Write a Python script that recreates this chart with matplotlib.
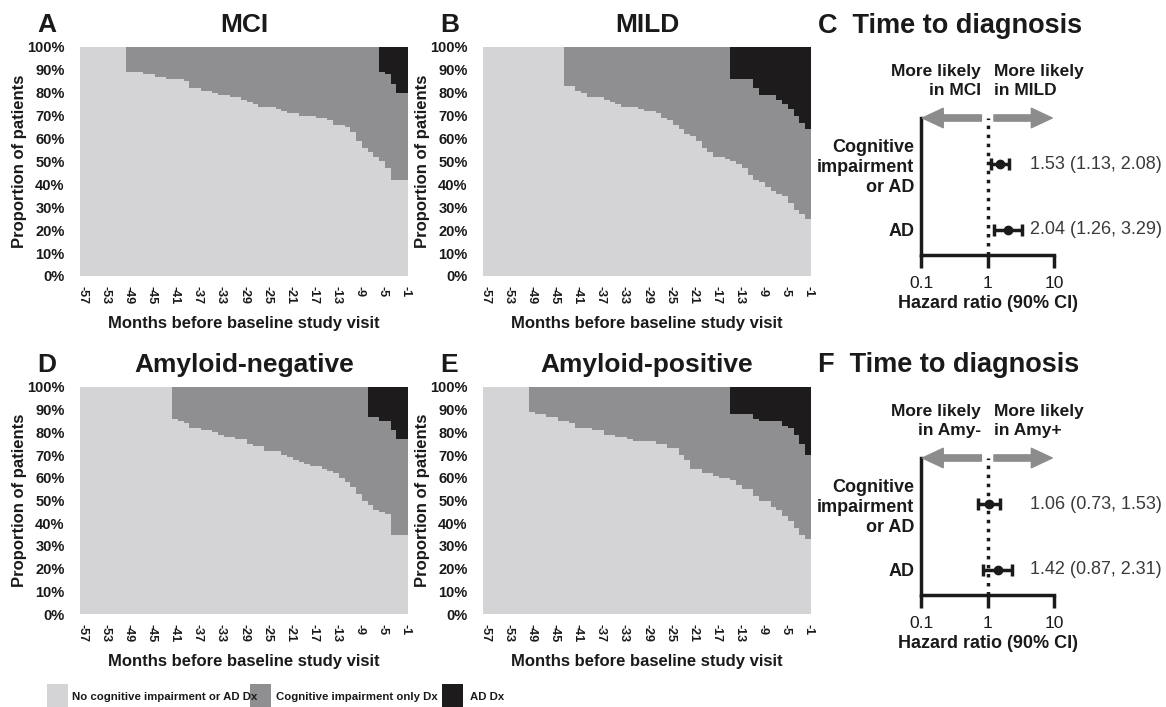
import numpy as np
import matplotlib
matplotlib.use("Agg")
import matplotlib.pyplot as plt
from matplotlib import font_manager
from matplotlib.patches import Rectangle

plt.rcParams["font.family"] = ["Liberation Sans", "DejaVu Sans"]

# months before baseline visit, one value per month
months = np.arange(-57, 0)
edges = np.arange(-57.5, 0.0, 1.0)
tick_months = months[::4]

# % with no cognitive impairment or AD diagnosis
mci_none = [100] * 8 + [89, 89, 89, 88, 88, 87, 87, 86, 86, 86, 85, 82, 82, 81, 81, 80, 79,
                        79, 78, 78, 77, 76, 75, 74, 74, 74, 73, 72, 71, 71, 70, 70, 70, 69,
                        69, 68, 66, 66, 65, 63, 59, 56, 54, 52, 50, 47, 42, 42, 42]
# % with AD diagnosis
mci_ad = [0] * 52 + [11, 12, 16, 20, 20]

mild_none = [100] * 14 + [83, 83, 81, 80, 78, 78, 78, 77, 76, 75, 74, 74, 74, 73, 72, 72, 71,
                          69, 68, 66, 64, 62, 61, 59, 56, 54, 52, 52, 51, 50, 49, 47, 44, 42,
                          41, 39, 37, 36, 35, 32, 29, 27, 25]
mild_ad = [0] * 43 + [14, 14, 14, 14, 18, 21, 21, 21, 23, 25, 27, 30, 33, 36]

neg_none = [100] * 16 + [86, 85, 84, 82, 82, 81, 81, 80, 79, 78, 78, 77, 77, 75, 74, 74, 72,
                         72, 72, 70, 69, 68, 67, 66, 65, 65, 64, 63, 62, 60, 58, 56, 53, 50,
                         48, 46, 45, 44, 35, 35, 35]
neg_ad = [0] * 50 + [13, 13, 15, 15, 19, 23, 23]

pos_none = [100] * 8 + [89, 88, 88, 87, 87, 85, 85, 84, 82, 82, 82, 81, 81, 79, 79, 78, 78,
                        77, 76, 76, 76, 76, 75, 75, 73, 73, 70, 68, 64, 64, 62, 62, 61, 60,
                        60, 59, 57, 55, 55, 52, 50, 50, 47, 46, 43, 41, 38, 35, 33]
pos_ad = [0] * 43 + [12, 12, 12, 12, 14, 15, 15, 15, 15, 17, 18, 21, 25, 30]

# hazard ratios (90% CI)
hr_rows = ["Cognitive\nimpairment\nor AD", "AD"]
hr_c = [1.53, 2.04]
lo_c = [1.13, 1.26]
hi_c = [2.08, 3.29]
hr_f = [1.06, 1.42]
lo_f = [0.73, 0.87]
hi_f = [1.53, 2.31]

legend_labels = ["No cognitive impairment or AD Dx", "Cognitive impairment only Dx", "AD Dx"]

C_NONE = "#d4d4d6"
C_COG = "#8f8f91"
C_AD = "#1e1b1c"
INK = "#1a1a1a"

names = {f.name for f in font_manager.fontManager.ttflist}
narrow = "Liberation Sans Narrow" if "Liberation Sans Narrow" in names else "Liberation Sans"

W, H = 1166, 707
fig = plt.figure(figsize=(W / 100, H / 100), dpi=100)


def box(x0, y0, x1, y1):
    return [x0 / W, 1 - y1 / H, (x1 - x0) / W, (y1 - y0) / H]


def stacked(ax, none, ad, title, letter):
    none = np.array(none, float)
    ad = np.array(ad, float)
    cog_top = 100 - ad
    ax.stairs(none, edges, baseline=0, fill=True, color=C_NONE, lw=0.6)
    ax.stairs(cog_top, edges, baseline=none, fill=True, color=C_COG, lw=0.6)
    ax.stairs(np.full(len(months), 100.0), edges, baseline=cog_top, fill=True, color=C_AD, lw=0.6)
    ax.set_xlim(edges[0], edges[-1])
    ax.set_ylim(0, 100)
    for s in ax.spines.values():
        s.set_visible(False)
    ax.set_yticks(np.arange(0, 101, 10), [f"{v}%" for v in range(0, 101, 10)],
                  fontweight="bold", fontsize=10.5)
    ax.set_xticks(tick_months, [str(m) for m in tick_months], rotation=-90,
                  fontweight="bold", fontsize=9)
    ax.tick_params(axis="y", length=0, pad=11, colors=INK)
    ax.tick_params(axis="x", length=0, pad=7, colors=INK)
    ax.set_ylabel("Proportion of patients", fontweight="bold", fontsize=12, labelpad=0, color=INK)
    ax.set_xlabel("Months before baseline study visit", fontweight="bold", fontsize=12,
                  labelpad=9, color=INK)
    ax.set_title(title, fontweight="bold", fontsize=19, pad=10.5, color=INK)
    ax.annotate(letter, xy=(-0.102, 1), xycoords="axes fraction", xytext=(0, 10.5),
                textcoords="offset points", ha="center", va="baseline",
                fontweight="bold", fontsize=19, color=INK)


def forest(ax, hr, lo, hi, left_txt, right_txt):
    hr = np.array(hr)
    lo = np.array(lo)
    hi = np.array(hi)
    ypos = [2, 1]
    ax.set_xscale("log")
    ax.set_xlim(0.1, 10)
    ax.set_ylim(0.62, 2.7)
    ax.axvline(1, color=INK, lw=2.5, ls=(0, (1, 1.6)))
    ax.errorbar(hr, ypos, xerr=[hr - lo, hi - hr], fmt="o", color=INK, ms=6,
                elinewidth=2.5, capsize=4.5, capthick=2.5)
    for s in ["top", "right"]:
        ax.spines[s].set_visible(False)
    for s in ["left", "bottom"]:
        ax.spines[s].set_linewidth(2.5)
        ax.spines[s].set_color(INK)
    ax.set_xticks([0.1, 1, 10], ["0.1", "1", "10"], fontsize=12.5)
    ax.xaxis.set_minor_locator(matplotlib.ticker.NullLocator())
    ax.tick_params(axis="x", length=9, width=2.5, pad=6, colors=INK)
    ax.set_yticks(ypos, hr_rows, fontweight="bold", fontsize=13)
    ax.tick_params(axis="y", length=0, pad=5, colors=INK)
    ax.set_xlabel("Hazard ratio (90% CI)", fontweight="bold", fontsize=13, labelpad=3, color=INK)
    for y, h, l, u in zip(ypos, hr, lo, hi):
        ax.text(1.81, y, f"{h:.2f} ({l:.2f}, {u:.2f})", transform=ax.get_yaxis_transform(),
                ha="right", va="center", fontsize=13, color="#3a3a3a")
    arrow = dict(arrowstyle="simple,head_length=1.5,head_width=1.4,tail_width=0.45",
                 color="#8c8c8c", mutation_scale=10, shrinkA=0, shrinkB=0)
    ax.annotate("", xy=(0.105, 2.7), xytext=(0.81, 2.7), arrowprops=arrow, annotation_clip=False)
    ax.annotate("", xy=(9.4, 2.7), xytext=(1.25, 2.7), arrowprops=arrow, annotation_clip=False)
    ax.text(0.8, 3.26, left_txt, ha="right", va="center", fontweight="bold", fontsize=12.5,
            color=INK, linespacing=1.3)
    ax.text(1.26, 3.26, right_txt, ha="left", va="center", fontweight="bold", fontsize=12.5,
            color=INK, linespacing=1.3)


axA = fig.add_axes(box(80, 47, 408, 276))
axB = fig.add_axes(box(483, 47, 811, 276))
axD = fig.add_axes(box(80, 387, 408, 614))
axE = fig.add_axes(box(483, 387, 811, 614))
axC = fig.add_axes(box(921, 118, 1054, 255))
axF = fig.add_axes(box(921, 458, 1054, 595))

stacked(axA, mci_none, mci_ad, "MCI", "A")
stacked(axB, mild_none, mild_ad, "MILD", "B")
stacked(axD, neg_none, neg_ad, "Amyloid-negative", "D")
stacked(axE, pos_none, pos_ad, "Amyloid-positive", "E")

forest(axC, hr_c, lo_c, hi_c, "More likely\nin MCI", "More likely\nin MILD")
forest(axF, hr_f, lo_f, hi_f, "More likely\nin Amy-", "More likely\nin Amy+")

fig.text(818 / W, 1 - 33 / H, "C  Time to diagnosis", ha="left", va="baseline",
         fontweight="bold", fontsize=19.5, color=INK)
fig.text(818 / W, 1 - 372 / H, "F  Time to diagnosis", ha="left", va="baseline",
         fontweight="bold", fontsize=19.5, color=INK)

# legend row
leg_sq = [47, 250, 442]
leg_tx = [72, 276, 470]
for x0, xt, lab, col in zip(leg_sq, leg_tx, legend_labels, [C_NONE, C_COG, C_AD]):
    fig.add_artist(Rectangle((x0 / W, 1 - 707 / H), 21 / W, 23 / H, transform=fig.transFigure,
                             facecolor=col, edgecolor="none"))
    fig.text(xt / W, 1 - 697 / H, lab, ha="left", va="center", fontweight="bold",
             fontsize=10 if narrow != "Liberation Sans" else 8.2, family=narrow, color=INK)

fig.savefig("out.png", dpi=100, facecolor="white")
